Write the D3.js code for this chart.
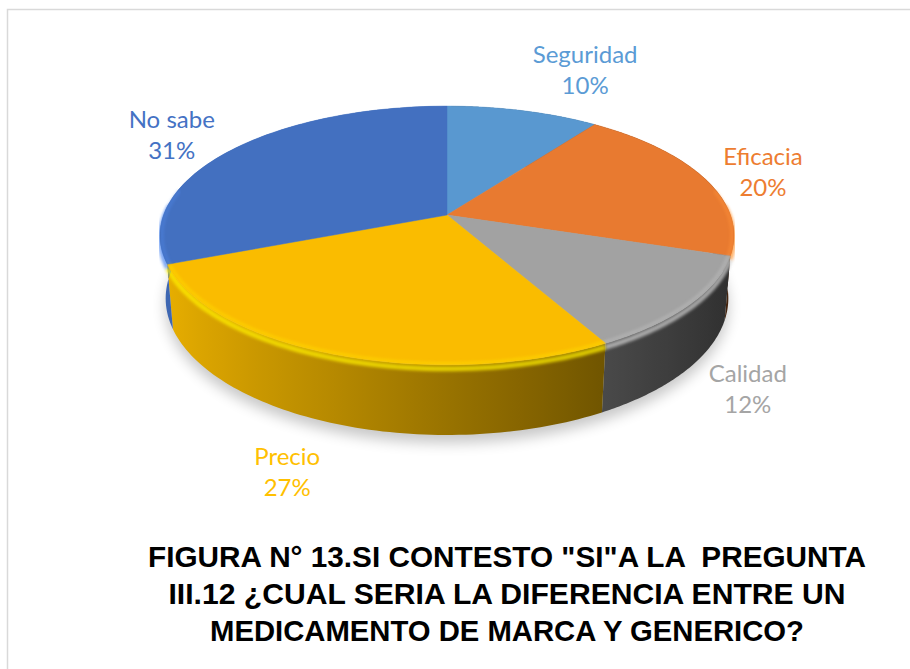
<!DOCTYPE html>
<html>
<head>
<meta charset="utf-8">
<script src="https://cdn.jsdelivr.net/npm/d3@7"></script>
<style>
  html, body { margin: 0; padding: 0; background: #fff; }
  svg { display: block; }
</style>
</head>
<body>
<svg id="chart" width="910" height="669"></svg>
<script>
// ---------- data ----------
const categories = ["Seguridad", "Eficacia", "Calidad", "Precio", "No sabe"];
const percentages = [10, 20, 12, 27, 31];
const seriesColors = ["#5B9BD5", "#ED7D31", "#A5A5A5", "#FFC000", "#4472C4"];
const titleLines = [
  "FIGURA N° 13.SI CONTESTO \"SI\"A LA  PREGUNTA",
  "III.12 ¿CUAL SERIA LA DIFERENCIA ENTRE UN",
  "MEDICAMENTO DE MARCA Y GENERICO?"
];

// ---------- layout ----------
const W = 910, H = 669;
const svg = d3.select("#chart");
const cam = { cx: 447, cy: 215, F: 1604, D: 5.66, s: 0.445, c: 0.895, t: 0.25 };
// label offsets from the rim point at each slice's mid-angle
const labelOffsets = [[62, -48], [59, -13], [58, 78], [-47, 111], [-60, -22]];
const titleWidths = [718, 677, 594];

function proj(a, r, z) {
  const X = r * Math.sin(a), Y = -r * Math.cos(a);
  const w = cam.D - Y * cam.c - z * cam.s;
  return [cam.cx + cam.F * X / w, cam.cy + cam.F * (Y * cam.s - z * cam.c) / w];
}

const data = categories.map((name, i) => ({ name, value: percentages[i], color: seriesColors[i] }));
const pie = d3.pie().sort(null).value(d => d.value);
const arcs = pie(data);

const defs = svg.append("defs");
defs.append("filter").attr("id", "shadowBlur").attr("x", "-20%").attr("y", "-40%").attr("width", "140%").attr("height", "180%")
  .append("feGaussianBlur").attr("stdDeviation", 7);
defs.append("filter").attr("id", "hlBlur").attr("x", "-5%").attr("y", "-20%").attr("width", "110%").attr("height", "140%")
  .append("feGaussianBlur").attr("stdDeviation", 1.4);

// border
svg.append("rect").attr("x", 7.5).attr("y", 9.5).attr("width", W + 10).attr("height", H + 10)
  .attr("fill", "#fff").attr("stroke", "#D9D9D9").attr("stroke-width", 1.5);

const line = d3.line();
function sampleAngles(a0, a1, n) {
  return d3.range(n + 1).map(k => a0 + (a1 - a0) * k / n);
}
function shade(base, a) {
  const f = 0.6 - 0.33 * Math.sin(a);
  return d3.rgb(base.r * f, base.g * f, base.b * f).formatHex();
}
const FRONT0 = Math.PI / 2, FRONT1 = 3 * Math.PI / 2;

// shadow below the pie
const shadowPts = sampleAngles(0, 2 * Math.PI, 120).map(a => {
  const p = proj(a, 1.0, -cam.t);
  return [p[0], p[1] + 8];
});
svg.append("path").attr("d", line(shadowPts) + "Z")
  .attr("fill", "#000").attr("opacity", 0.22).attr("filter", "url(#shadowBlur)");

// walls: one polygon per slice, shaded by a horizontal gradient
const gWalls = svg.append("g");
arcs.forEach((d, i) => {
  const base = d3.color(d.data.color);
  const angs = sampleAngles(d.startAngle, d.endAngle, 80);
  const top = angs.map(a => proj(a, 1, 0));
  const bot = angs.map(a => proj(a, 1, -cam.t)).reverse();
  const v0 = Math.max(d.startAngle, FRONT0), v1 = Math.min(d.endAngle, FRONT1);
  let fill = shade(base, (d.startAngle + d.endAngle) / 2);
  if (v1 > v0) {
    const va = sampleAngles(v0, v1, 12);
    const xs = va.map(a => proj(a, 1, 0)[0]);
    const xMin = d3.min(xs), xMax = d3.max(xs);
    if (xMax - xMin > 1) {
      const gid = "wallGrad" + i;
      const grad = defs.append("linearGradient").attr("id", gid)
        .attr("gradientUnits", "userSpaceOnUse")
        .attr("x1", xMin).attr("y1", 0).attr("x2", xMax).attr("y2", 0);
      const stops = va.map((a, k) => ({ o: (xs[k] - xMin) / (xMax - xMin), c: shade(base, a) }))
        .sort((p, q) => p.o - q.o);
      stops.forEach(s => grad.append("stop").attr("offset", s.o).attr("stop-color", s.c));
      fill = "url(#" + gid + ")";
    } else {
      fill = shade(base, (v0 + v1) / 2);
    }
  }
  gWalls.append("path").attr("d", line(top.concat(bot)) + "Z").attr("fill", fill);
});

// bevel highlight along the front rim
const gHl = svg.append("g");
arcs.forEach(d => {
  const v0 = Math.max(d.startAngle, FRONT0 - 0.1), v1 = Math.min(d.endAngle, FRONT1 + 0.1);
  if (v1 <= v0) return;
  const pts = sampleAngles(v0, v1, 60).map(a => proj(a, 1, -0.014));
  gHl.append("path").attr("d", line(pts)).attr("fill", "none")
    .attr("stroke", d3.color(d.data.color).brighter(0.6)).attr("stroke-width", 5)
    .attr("opacity", 0.75).attr("filter", "url(#hlBlur)");
});

// top faces
const gTop = svg.append("g");
arcs.forEach(d => {
  const pts = [proj(0, 0, 0)].concat(sampleAngles(d.startAngle, d.endAngle, 80).map(a => proj(a, 1, 0)));
  const col = d3.color(d.data.color).darker(0.06);
  gTop.append("path").attr("d", line(pts) + "Z").attr("fill", col).attr("stroke", col).attr("stroke-width", 0.5);
});

// soft rim bevel on the front of the top face
arcs.forEach(d => {
  const v0 = Math.max(d.startAngle, FRONT0 - 0.2), v1 = Math.min(d.endAngle, FRONT1 + 0.2);
  if (v1 <= v0) return;
  const pts = sampleAngles(v0, v1, 60).map(a => proj(a, 0.993, 0));
  gTop.append("path").attr("d", line(pts)).attr("fill", "none")
    .attr("stroke", d3.color(d.data.color).brighter(0.45)).attr("stroke-width", 3)
    .attr("opacity", 0.5).attr("filter", "url(#hlBlur)");
});

// labels
const gLab = svg.append("g").attr("font-family", "Lato, 'Open Sans', sans-serif")
  .attr("font-size", 24).attr("text-anchor", "middle");
arcs.forEach((d, i) => {
  const mid = (d.startAngle + d.endAngle) / 2;
  const p = proj(mid, 1, 0);
  const x = p[0] + labelOffsets[i][0], y = p[1] + labelOffsets[i][1];
  const t = gLab.append("text").attr("fill", d.data.color);
  t.append("tspan").attr("x", x).attr("y", y).text(d.data.name);
  t.append("tspan").attr("x", x).attr("y", y + 31).text(d.data.value + "%");
});

// title
const gTitle = svg.append("g").attr("font-family", "'Liberation Sans Narrow', 'Liberation Sans', Arial, sans-serif")
  .attr("font-weight", "bold").attr("font-size", 30).attr("text-anchor", "middle").attr("fill", "#000");
titleLines.forEach((s, i) => {
  gTitle.append("text").attr("x", 507).attr("y", 567 + i * 37)
    .attr("textLength", titleWidths[i]).attr("lengthAdjust", "spacingAndGlyphs")
    .style("white-space", "pre").text(s);
});
</script>
</body>
</html>
